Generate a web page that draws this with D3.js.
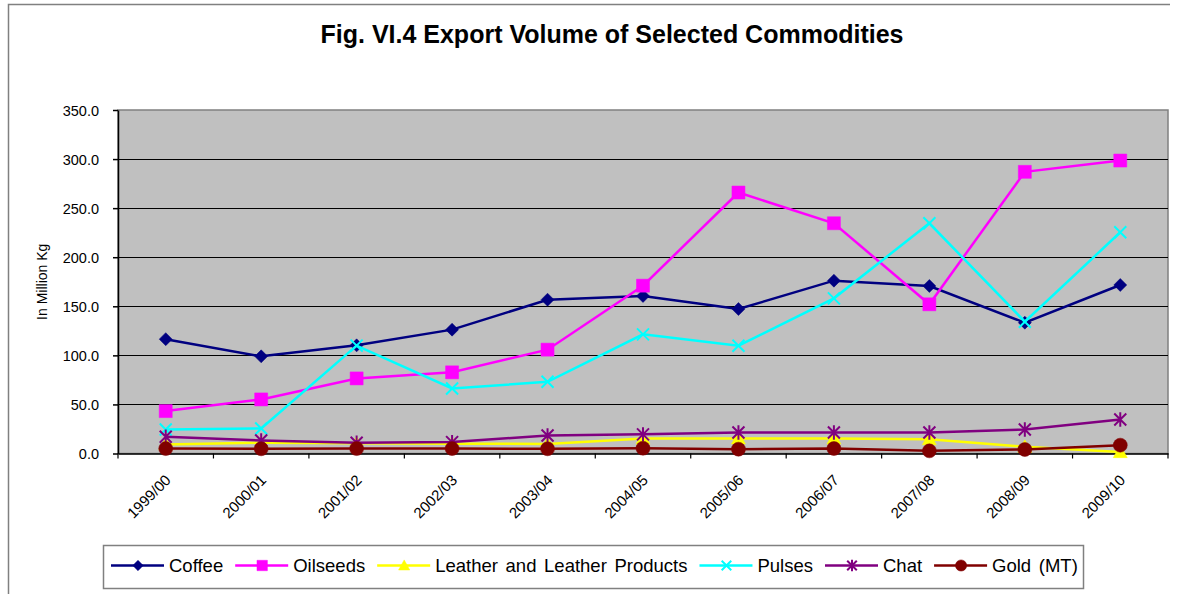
<!DOCTYPE html>
<html>
<head>
<meta charset="utf-8">
<script src="https://cdn.jsdelivr.net/npm/d3@7"></script>
<style>
  body { margin: 0; background: #fff; }
  text { font-family: "Liberation Sans", Arial, sans-serif; fill: #000; }
</style>
</head>
<body>
<div id="chart"></div>
<script>
// Data ===========================
let years = ["1999/00", "2000/01", "2001/02", "2002/03", "2003/04", "2004/05",
  "2005/06", "2006/07", "2007/08", "2008/09", "2009/10"];
let coffee = [116.5, 99.0, 110.2, 126.2, 156.7, 160.5, 147.2, 176.1, 170.7, 133.3, 171.7];
let oilseeds = [43.2, 55.1, 76.5, 82.7, 105.8, 171.0, 265.9, 234.6, 152.0, 287.0, 298.5];
let leather = [9.2, 11.0, 10.5, 10.0, 9.8, 15.3, 15.3, 15.3, 14.6, 6.8, 1.5];
let pulses = [24.5, 25.5, 109.9, 66.3, 73.1, 121.4, 109.8, 158.1, 234.6, 134.3, 225.4];
let chat = [17.0, 13.3, 10.9, 11.6, 18.4, 19.5, 21.4, 21.4, 21.4, 24.5, 34.7];
let gold = [5.0, 4.8, 5.0, 5.0, 4.8, 5.4, 4.4, 5.1, 2.7, 4.1, 8.5];
let yTicks = [0, 50, 100, 150, 200, 250, 300, 350];

let series = [
  { name: "Coffee", values: coffee, color: "#000080", marker: "diamond" },
  { name: "Oilseeds", values: oilseeds, color: "#ff00ff", marker: "square" },
  { name: "Leather and Leather Products", values: leather, color: "#ffff00", marker: "triangle" },
  { name: "Pulses", values: pulses, color: "#00ffff", marker: "cross" },
  { name: "Chat", values: chat, color: "#800080", marker: "star" },
  { name: "Gold (MT)", values: gold, color: "#800000", marker: "circle" }
];

// Layout =========================
let svgWidth = 1177;
let svgHeight = 594;
let plot = { left: 118, right: 1168, top: 110, bottom: 453.5 };

let svg = d3.select("#chart").append("svg")
  .attr("width", svgWidth)
  .attr("height", svgHeight);

// outer frame (only top and left edges show)
svg.append("path")
  .attr("d", "M8.5,600 L8.5,4.5 L1170,4.5")
  .attr("fill", "none")
  .attr("stroke", "#808080")
  .attr("stroke-width", 1.5);

svg.append("text")
  .attr("x", 612)
  .attr("y", 43)
  .attr("text-anchor", "middle")
  .style("font-size", "25px")
  .style("font-weight", "bold")
  .text("Fig. VI.4 Export Volume of Selected Commodities");

let x = d3.scaleBand().domain(years).range([plot.left, plot.right]);
let y = d3.scaleLinear().domain([0, 350]).range([plot.bottom, plot.top]);
let cx = d => x(d) + x.bandwidth() / 2;

// plot background
svg.append("rect")
  .attr("x", plot.left)
  .attr("y", plot.top)
  .attr("width", plot.right - plot.left)
  .attr("height", plot.bottom - plot.top)
  .attr("fill", "#c0c0c0")
  .attr("stroke", "#808080")
  .attr("stroke-width", 1.5);

// gridlines
svg.append("g").selectAll("line")
  .data(yTicks.filter(d => d > 0 && d < 350))
  .enter()
  .append("line")
  .attr("x1", plot.left)
  .attr("x2", plot.right)
  .attr("y1", d => Math.round(y(d)) + 0.5)
  .attr("y2", d => Math.round(y(d)) + 0.5)
  .attr("stroke", "#000")
  .attr("stroke-width", 1.2);

// Y axis
let yAxis = svg.append("g")
  .attr("transform", `translate(${plot.left}, 0)`)
  .call(d3.axisLeft(y).tickValues(yTicks).tickFormat(d3.format(".1f")).tickSize(5).tickPadding(14).tickSizeOuter(0));
yAxis.selectAll("text").style("font-size", "14.5px").attr("dy", "0.35em");
yAxis.selectAll("path, line").attr("stroke", "#000").attr("stroke-width", 1.5);

svg.append("text")
  .attr("transform", `translate(47, ${(plot.top + plot.bottom) / 2}) rotate(-90)`)
  .attr("text-anchor", "middle")
  .style("font-size", "14px")
  .text("In Million Kg");

// X axis
let xAxis = svg.append("g")
  .attr("transform", `translate(0, ${plot.bottom})`)
  .call(d3.axisBottom(x).tickSize(0).tickFormat("").tickSizeOuter(0));
xAxis.select("path").attr("stroke", "#000").attr("stroke-width", 1.5);

svg.append("g").selectAll("line")
  .data(years.map(d => x(d)).concat([plot.right]))
  .enter()
  .append("line")
  .attr("x1", d => d)
  .attr("x2", d => d)
  .attr("y1", plot.bottom)
  .attr("y2", plot.bottom + 5)
  .attr("stroke", "#000")
  .attr("stroke-width", 1.2);

svg.append("g").selectAll("text")
  .data(years)
  .enter()
  .append("text")
  .attr("transform", d => `translate(${cx(d) + 6}, 481) rotate(-45)`)
  .attr("text-anchor", "end")
  .style("font-size", "15px")
  .text(d => d);

// Markers ========================
let markerPath = (type, r) => {
  switch (type) {
    case "diamond": return `M0,${-r}L${r},0L0,${r}L${-r},0Z`;
    case "square": return `M${-r},${-r}H${r}V${r}H${-r}Z`;
    case "triangle": return `M0,${-r}L${r},${r * 0.8}L${-r},${r * 0.8}Z`;
    case "cross": return `M${-r},${-r}L${r},${r}M${r},${-r}L${-r},${r}`;
    case "star": return `M${-r},${-r}L${r},${r}M${r},${-r}L${-r},${r}M0,${-r * 1.2}V${r * 1.2}`;
    case "circle": return `M${r},0A${r},${r} 0 1,1 ${-r},0A${r},${r} 0 1,1 ${r},0Z`;
  }
};
let markerSize = { diamond: 6.5, square: 6.5, triangle: 7, cross: 6, star: 6, circle: 7 };
let stroked = t => t == "cross" || t == "star";

let drawMarker = (g, s, scale) => {
  g.append("path")
    .attr("d", markerPath(s.marker, markerSize[s.marker] * scale))
    .attr("fill", stroked(s.marker) ? "none" : s.color)
    .attr("stroke", s.color)
    .attr("stroke-width", stroked(s.marker) ? 2 : 0.5);
};

// Lines ==========================
let line = d3.line()
  .x((d, i) => cx(years[i]))
  .y(d => y(d));

series.forEach(s => {
  let g = svg.append("g");
  g.append("path")
    .attr("d", line(s.values))
    .attr("fill", "none")
    .attr("stroke", s.color)
    .attr("stroke-width", 2.5);
  s.values.forEach((v, i) => {
    let m = g.append("g").attr("transform", `translate(${cx(years[i])}, ${y(v)})`);
    drawMarker(m, s, 1);
  });
});

// Legend =========================
let legend = { left: 103, top: 545, right: 1083, bottom: 588 };
svg.append("rect")
  .attr("x", legend.left + 0.5)
  .attr("y", legend.top + 0.5)
  .attr("width", legend.right - legend.left)
  .attr("height", legend.bottom - legend.top)
  .attr("fill", "#fff")
  .attr("stroke", "#808080")
  .attr("stroke-width", 1.5);

let lx = 111;
let ly = 565.5;
series.forEach(s => {
  let g = svg.append("g");
  g.append("line")
    .attr("x1", lx).attr("x2", lx + 53)
    .attr("y1", ly).attr("y2", ly)
    .attr("stroke", s.color)
    .attr("stroke-width", 2.5);
  let m = g.append("g").attr("transform", `translate(${lx + 27}, ${ly})`);
  drawMarker(m, s, 0.8);
  let t = g.append("text")
    .attr("x", lx + 58)
    .attr("y", ly + 6.5)
    .style("font-size", "18.5px")
    .style("word-spacing", "2.5px")
    .text(s.name);
  lx = lx + 58 + t.node().getComputedTextLength() + 12;
});
</script>
</body>
</html>
